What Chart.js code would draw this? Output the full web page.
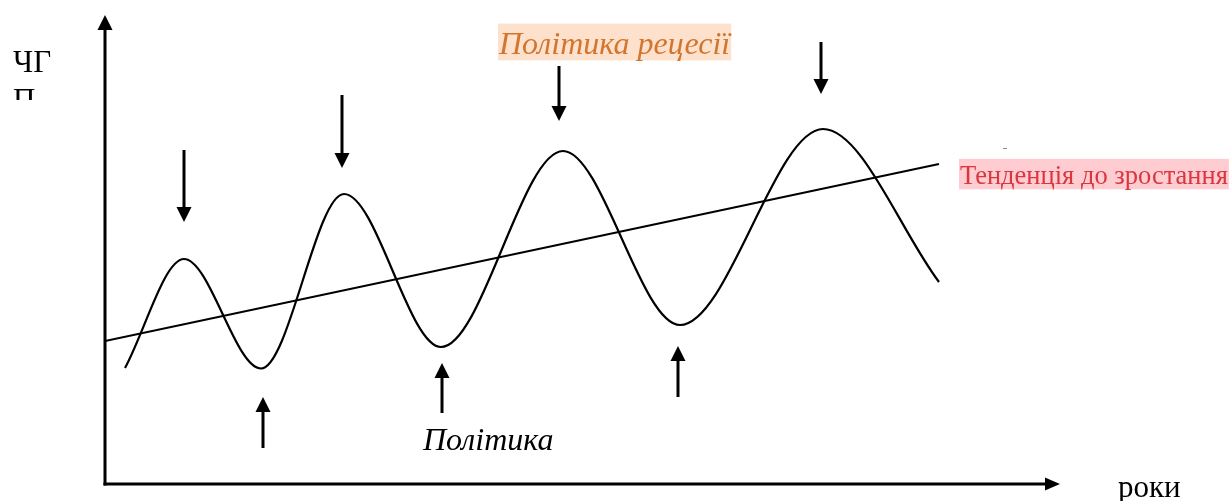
<!DOCTYPE html>
<html lang="uk">
<head>
<meta charset="utf-8">
<title>ЧГП</title>
<script src="https://cdn.jsdelivr.net/npm/chart.js@4"></script>
<style>
  html, body { margin: 0; padding: 0; background: #fff; }
  #wrap { width: 1230px; height: 501px; position: relative; }
</style>
</head>
<body>
<div id="wrap"><canvas id="cycleChart"></canvas></div>
<script>
// business cycle curve: start, peaks / troughs, end (x = роки, y = ЧГП)
const waveX = [2.0, 7.9, 15.6, 23.9, 33.6, 45.8, 57.5, 71.8, 83.4];
const waveY = [11.6, 22.5, 11.55, 29.0, 13.7, 33.3, 15.9, 35.5, 20.2];

// growth trend line
const trendX = [0, 83.4];
const trendY = [14.3, 32.0];

// policy arrows over peaks (down) and under troughs (up)
const downX = [7.9, 23.7, 45.4, 71.6];
const downFrom = [33.4, 38.9, 41.8, 44.2];
const downTo = [26.2, 31.6, 36.3, 39.0];
const upX = [15.8, 33.7, 57.3];
const upFrom = [3.6, 7.1, 8.7];
const upTo = [8.7, 12.1, 13.8];

const axisMaxX = 95.5;
const axisMaxY = 46.9;

const yTitle = ['ЧГ', 'П'];
const xTitle = 'роки';
const recessionText = 'Політика рецесії';
const trendText = 'Тенденція до зростання';
const policyText = 'Політика';

function arrow(ctx, x0, y0, x1, y1, len, wid) {
    const a = Math.atan2(y1 - y0, x1 - x0);
    const bx = x1 - Math.cos(a) * len, by = y1 - Math.sin(a) * len;
    ctx.beginPath();
    ctx.moveTo(x0, y0);
    ctx.lineTo(bx, by);
    ctx.stroke();
    ctx.beginPath();
    ctx.moveTo(x1, y1);
    ctx.lineTo(bx + Math.sin(a) * wid / 2, by - Math.cos(a) * wid / 2);
    ctx.lineTo(bx - Math.sin(a) * wid / 2, by + Math.cos(a) * wid / 2);
    ctx.closePath();
    ctx.fill();
}

function marked(ctx, text, x, y, size, color, bg) {
    const w = ctx.measureText(text).width;
    ctx.fillStyle = bg;
    ctx.fillRect(x - 1, y - size * 0.95, w + 2, size * 1.15);
    ctx.fillStyle = color;
    ctx.fillText(text, x, y);
}

const sketch = {
    id: 'sketch',
    afterDatasetsDraw(chart) {
        const ctx = chart.ctx;
        const px = v => chart.scales.x.getPixelForValue(v);
        const py = v => chart.scales.y.getPixelForValue(v);
        ctx.save();
        ctx.strokeStyle = '#000';
        ctx.fillStyle = '#000';

        // axes
        ctx.lineWidth = 3;
        ctx.lineCap = 'square';
        arrow(ctx, px(0), py(0), px(0), py(axisMaxY), 15, 15);
        arrow(ctx, px(0), py(0), px(axisMaxX), py(0), 15, 13);
        ctx.lineCap = 'butt';

        // policy arrows
        downX.forEach((v, i) => arrow(ctx, px(v), py(downFrom[i]), px(v), py(downTo[i]), 15, 15));
        upX.forEach((v, i) => arrow(ctx, px(v), py(upFrom[i]), px(v), py(upTo[i]), 15, 15));

        // texts
        ctx.textBaseline = 'alphabetic';
        ctx.font = '31px "Liberation Serif"';
        ctx.fillText(yTitle[0], 13, 72);
        ctx.save();
        ctx.beginPath();
        ctx.rect(0, 80, 100, 20);
        ctx.clip();
        ctx.fillText(yTitle[1], 13, 110);
        ctx.restore();

        ctx.font = '31px "Liberation Serif"';
        ctx.fillText(xTitle, 1118, 497);

        ctx.font = 'italic 32px "Liberation Serif"';
        ctx.fillText(policyText, 423, 450);

        marked(ctx, recessionText, 499, 54, 32, '#D2762F', '#FDE1CC');

        ctx.font = '26.5px "Liberation Serif"';
        marked(ctx, trendText, 960, 184, 26.5, '#D9363E', '#FFCCD2');

        ctx.fillStyle = '#888';
        ctx.fillRect(1003, 148, 4, 1);
        ctx.restore();
    }
};

const ctx = document.getElementById('cycleChart').getContext('2d');
const cycleChart = new Chart(ctx, {
    type: 'line',
    data: {
        datasets: [{
            label: 'ЧГП',
            data: waveX.map((v, i) => ({x: v, y: waveY[i]})),
            borderColor: '#000',
            borderWidth: 2.2,
            pointRadius: 0,
            cubicInterpolationMode: 'monotone',
            fill: false
        }, {
            label: trendText,
            data: trendX.map((v, i) => ({x: v, y: trendY[i]})),
            borderColor: '#000',
            borderWidth: 2.2,
            pointRadius: 0,
            tension: 0,
            fill: false
        }]
    },
    options: {
        responsive: true,
        maintainAspectRatio: false,
        animation: false,
        layout: {padding: {left: 105, right: 170, top: 15, bottom: 17}},
        plugins: {legend: {display: false}, tooltip: {enabled: false}},
        scales: {
            x: {type: 'linear', display: false, min: 0, max: axisMaxX},
            y: {display: false, min: 0, max: axisMaxY}
        }
    },
    plugins: [sketch]
});
</script>
</body>
</html>
